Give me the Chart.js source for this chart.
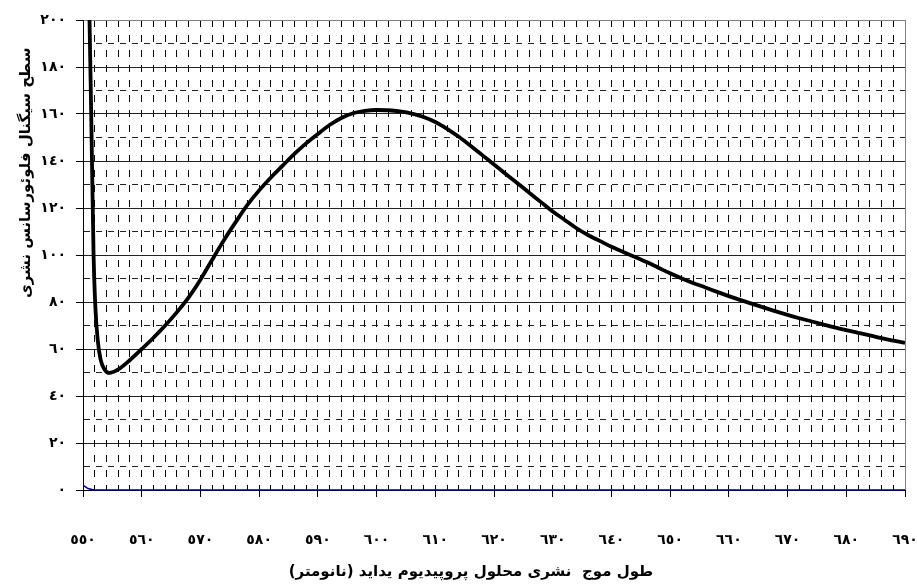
<!DOCTYPE html>
<html>
<head>
<meta charset="utf-8">
<script src="https://cdn.jsdelivr.net/npm/chart.js@4/dist/chart.umd.min.js"></script>
<style>
html,body{margin:0;padding:0;background:#fff;}
canvas{display:block;}
</style>
</head>
<body>
<canvas id="c" width="917" height="587"></canvas>
<script>
// ---- data ----
const wavelengths = [551, 551.4, 551.8, 552.1, 552.5, 553, 553.7, 554.5, 556, 558,
  560, 562, 564, 566, 568, 570, 572, 574, 576, 578,
  580, 582, 584, 586, 588, 590, 592, 594, 596, 598,
  600, 602, 604, 606, 608, 610, 612, 614, 616, 618,
  620, 622, 624, 626, 628, 630, 632, 634, 636, 638,
  640, 642, 644, 646, 648, 650, 652, 654, 656, 658,
  660, 662, 664, 666, 668, 670, 672, 674, 676, 678,
  680, 682, 684, 686, 688, 690];
const signal = [215, 160, 100, 78, 64, 55.5, 51.2, 49.8, 51.3, 55.3,
  60, 64.8, 70, 75.7, 82, 89.5, 98, 106.3, 114, 121.3,
  127.5, 133, 138, 143, 147.5, 151.5, 155.3, 158.3, 160.3, 161.3,
  161.7, 161.6, 161.1, 160.2, 158.7, 156.6, 153.7, 150.3, 146.5, 142.5,
  138.5, 134.5, 130.5, 126.5, 122.5, 118.5, 115, 111.5, 108.5, 106,
  103.5, 101.3, 99.2, 97, 94.6, 92.2, 90, 88, 86.2, 84.3,
  82.5, 80.8, 79.2, 77.6, 76, 74.5, 73.1, 71.8, 70.5, 69.2,
  68, 66.9, 65.8, 64.6, 63.6, 62.6];
const baselineWavelengths = [550, 550.5, 551, 552, 690];
const baselineSignal = [2.1, 1.2, 0.5, 0, 0];

const xTickValues = [550, 560, 570, 580, 590, 600, 610, 620, 630, 640, 650, 660, 670, 680, 690];
const xTickLabels = ['٥٥٠','٥٦٠','٥٧٠','٥٨٠','٥٩٠','٦٠٠','٦١٠','٦٢٠','٦٣٠','٦٤٠','٦٥٠','٦٦٠','٦٧٠','٦٨٠','٦٩٠'];
const yTickValues = [0, 20, 40, 60, 80, 100, 120, 140, 160, 180, 200];
const yTickLabels = ['٠','٢٠','٤٠','٦٠','٨٠','١٠٠','١٢٠','١٤٠','١٦٠','١٨٠','٢٠٠'];

const xTitle = 'طول موج  نشری محلول پروپیدیوم یداید (نانومتر)';
const yTitle = 'سطح سیگنال فلوئورسانس نشری';

// ---- chart ----
const FONT = '"DejaVu Sans", sans-serif';

const titlePlugin = {
  id: 'axisTitles',
  afterDraw(chart) {
    const ctx = chart.ctx;
    const a = chart.chartArea;
    ctx.save();
    ctx.fillStyle = '#000';
    ctx.font = 'bold 15px ' + FONT;
    ctx.textAlign = 'center';
    ctx.textBaseline = 'middle';
    ctx.fillText(xTitle, a.left + (a.right - a.left) * 0.472, 572);
    ctx.translate(26, a.top + (a.bottom - a.top) * 0.325);
    ctx.rotate(-Math.PI / 2);
    ctx.fillText(yTitle, 0, 0);
    ctx.restore();
  }
};

new Chart(document.getElementById('c'), {
  type: 'line',
  data: {
    datasets: [
      {
        data: wavelengths.map((x, i) => ({x, y: signal[i]})),
        borderColor: '#000',
        borderWidth: 3.8,
        pointRadius: 0,
        cubicInterpolationMode: 'monotone',
        clip: 0
      },
      {
        data: baselineWavelengths.map((x, i) => ({x, y: baselineSignal[i]})),
        borderColor: '#000080',
        borderWidth: 1.5,
        pointRadius: 0,
        cubicInterpolationMode: 'monotone',
        clip: {left: 0, top: 0, right: 0, bottom: 3}
      }
    ]
  },
  options: {
    responsive: false,
    devicePixelRatio: 1,
    animation: false,
    layout: { padding: { left: 0, right: 12, top: 20, bottom: 0 } },
    plugins: { legend: { display: false }, tooltip: { enabled: false } },
    scales: {
      x: {
        type: 'linear',
        min: 550, max: 690,
        afterFit(s) { s.height = 97; s.paddingLeft = 0; s.paddingRight = 0; },
        ticks: {
          stepSize: 2,
          autoSkip: false,
          maxRotation: 0,
          padding: 35,
          color: '#000',
          font: { family: FONT, size: 14, weight: 'bold' },
          callback(v) { const i = xTickValues.indexOf(v); return i >= 0 ? xTickLabels[i] : ''; }
        },
        grid: {
          lineWidth: 1,
          tickLength: 7,
          color: c => (c.tick && c.tick.value === 690) ? '#808080' : '#000',
          tickColor: c => (c.tick && c.tick.value % 10 === 0) ? '#000' : 'rgba(0,0,0,0)'
        },
        border: {
          display: true, color: '#000', width: 1,
          dash: c => (c.tick && c.tick.value !== 550 && c.tick.value !== 690) ? [7, 8] : []
        }
      },
      y: {
        type: 'linear',
        min: 0, max: 200,
        afterFit(s) { s.width = 83; s.paddingTop = 0; s.paddingBottom = 0; },
        ticks: {
          stepSize: 10,
          autoSkip: false,
          padding: 10,
          color: '#000',
          font: { family: FONT, size: 14, weight: 'bold' },
          callback(v) { const i = yTickValues.indexOf(v); return i >= 0 ? yTickLabels[i] : ''; }
        },
        grid: {
          lineWidth: 1,
          tickLength: 7,
          color: c => (c.tick && c.tick.value === 200) ? '#808080' : '#222',
          tickColor: c => (c.tick && c.tick.value % 20 === 0) ? '#000' : 'rgba(0,0,0,0)'
        },
        border: {
          display: true, color: '#000', width: 1,
          dash: c => (c.tick && c.tick.value % 20 !== 0) ? [6, 6] : []
        }
      }
    }
  },
  plugins: [titlePlugin]
});
</script>
</body>
</html>
